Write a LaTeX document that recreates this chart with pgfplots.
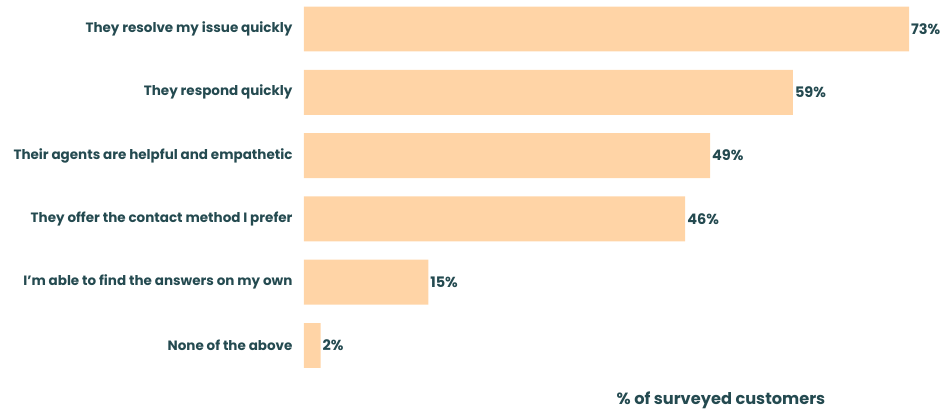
\documentclass[border=0pt]{standalone}
\usepackage{fontspec}
\setmainfont{Poppins}
\usepackage{pgfplots}
\pgfplotsset{compat=1.18}
\definecolor{barc}{HTML}{FFD4A6}
\definecolor{txt}{HTML}{244A50}
\begin{document}
\begin{tikzpicture}[x=1pt,y=1pt]
\useasboundingbox (0,0) rectangle (945,412);
\begin{axis}[
  at={(304pt,34.85pt)}, anchor=south west,
  scale only axis, width=605pt, height=379.8pt,
  xmin=0, xmax=73, ymin=-0.5, ymax=5.5,
  y dir=reverse,
  axis line style={draw=none},
  xtick=\empty,
  ytick={0,1,2,3,4,5},
  yticklabels={They resolve my issue quickly, They respond quickly, Their agents are helpful and empathetic, They offer the contact method I prefer, I'm able to find the answers on my own, None of the above},
  yticklabel style={font=\bfseries\fontsize{13.5}{15}\selectfont, text=txt, xshift=-8pt},
  major tick length=0pt,
  xbar, bar width=0.71,
  clip=false,
  /pgf/number format/assume math mode=true,
  nodes near coords={\pgfmathprintnumber{\pgfplotspointmeta}\%},
  nodes near coords style={font=\bfseries\fontsize{14.5}{16}\selectfont, text=txt, anchor=west, xshift=-1.5pt},
  point meta=x,
]
\addplot[draw=none, fill=barc] coordinates {(73,0) (59,1) (49,2) (46,3) (15,4) (2,5)};
\end{axis}
\node[font=\bfseries\fontsize{16.2}{18}\selectfont, text=txt] at (721,12) {\% of surveyed customers};
\end{tikzpicture}
\end{document}
